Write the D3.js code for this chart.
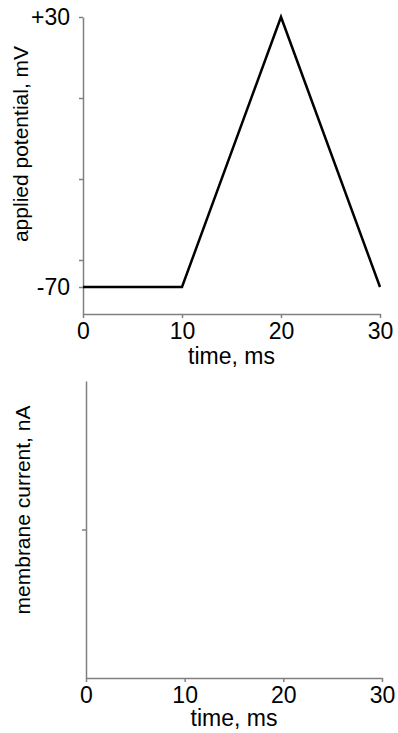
<!DOCTYPE html>
<html>
<head>
<meta charset="utf-8">
<script src="https://cdn.jsdelivr.net/npm/d3@7"></script>
<style>
  body { margin: 0; background: #fff; }
  svg { display: block; font-family: Arial, "Liberation Sans", sans-serif; }
  .axis path, .axis line { stroke: #808080; stroke-width: 1.5; }
  .axis text { fill: #000; font-size: 23px; font-family: Arial, "Liberation Sans", sans-serif; }
</style>
</head>
<body>
<script>
'use strict';

// applied voltage ramp (time in ms, potential in mV)
var timeMs = [0, 10, 20, 30];
var potential = [-70, -70, 30, -70];
var timeTicks = [0, 10, 20, 30];
var potentialTicks = [30, 0, -30, -60, -70];
var potentialLabels = { '30': '+30', '-70': '-70' };
var currentTicks = [0];

var width = 398,
  height = 733;

var svg = d3.select('body').append('svg')
  .attr('width', width)
  .attr('height', height);

// ---- top panel: applied potential
var x1 = d3.scaleLinear().domain([0, 30]).range([83, 380]);
var y1 = d3.scaleLinear().domain([-80, 30]).range([314, 17]);

svg.append('g')
  .attr('class', 'axis')
  .attr('transform', 'translate(0,' + y1(-80) + ')')
  .call(d3.axisBottom(x1).tickValues(timeTicks).tickSize(4).tickSizeOuter(0).tickPadding(5));

svg.append('g')
  .attr('class', 'axis')
  .attr('transform', 'translate(' + x1(0) + ',0)')
  .call(d3.axisLeft(y1).tickValues(potentialTicks).tickSize(4).tickSizeOuter(0).tickPadding(9)
    .tickFormat(function(d) { return potentialLabels[d] || ''; }));

var line = d3.line()
  .x(function(d, i) { return x1(timeMs[i]); })
  .y(function(d) { return y1(d); });

svg.append('path')
  .datum(potential)
  .attr('d', line)
  .attr('fill', 'none')
  .attr('stroke', '#000')
  .attr('stroke-width', 2.5)
  .attr('stroke-linejoin', 'miter');

svg.append('text')
  .attr('x', (x1(0) + x1(30)) / 2)
  .attr('y', 364)
  .attr('text-anchor', 'middle')
  .style('font-size', '23px')
  .text('time, ms');

svg.append('text')
  .attr('transform', 'translate(28,144) rotate(-90)')
  .attr('text-anchor', 'middle')
  .style('font-size', '21px')
  .text('applied potential, mV');

// ---- bottom panel: membrane current (empty)
var x2 = d3.scaleLinear().domain([0, 30]).range([86, 382]);
var y2 = d3.scaleLinear().domain([-1, 1]).range([678, 381]);

svg.append('g')
  .attr('class', 'axis')
  .attr('transform', 'translate(0,' + y2(-1) + ')')
  .call(d3.axisBottom(x2).tickValues(timeTicks).tickSize(4).tickSizeOuter(0).tickPadding(5));

svg.append('g')
  .attr('class', 'axis')
  .attr('transform', 'translate(' + x2(0) + ',0)')
  .call(d3.axisLeft(y2).tickValues(currentTicks).tickSize(4).tickSizeOuter(0)
    .tickFormat(function() { return ''; }));

svg.append('text')
  .attr('x', (x2(0) + x2(30)) / 2)
  .attr('y', 726)
  .attr('text-anchor', 'middle')
  .style('font-size', '23px')
  .text('time, ms');

svg.append('text')
  .attr('transform', 'translate(30,510) rotate(-90)')
  .attr('text-anchor', 'middle')
  .style('font-size', '21px')
  .text('membrane current, nA');
</script>
</body>
</html>
